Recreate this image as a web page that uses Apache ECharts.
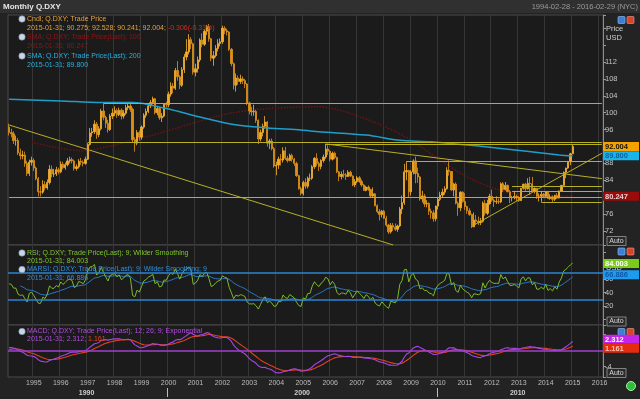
<!DOCTYPE html>
<html>
<head>
<meta charset="utf-8">
<title>Monthly Q.DXY</title>
<script src="https://cdn.jsdelivr.net/npm/echarts@6.0.0/dist/echarts.min.js"></script>
<style>
html,body{margin:0;padding:0;background:#232323;overflow:hidden;}
#chart{width:640px;height:399px;}
</style>
</head>
<body>
<div id="chart"></div>
<script>
// ================= DATA =================
const firstMonth = '1994-02';
const lastMonth = '2016-02';
const firstOpen = 96.6;
// monthly closes 1994-02 .. 2015-01
const closeVals = [
  95.3, 95.0, 93.4, 93.4, 90.5, 89.8, 90.0, 88.0, 85.6, 88.3, 88.7,              // 1994 Feb-Dec
  86.9, 84.4, 81.3, 81.2, 83.0, 82.2, 83.5, 86.6, 85.5, 85.5, 86.5, 86.0,        // 1995
  87.8, 87.0, 87.7, 88.6, 88.9, 88.6, 86.8, 87.2, 88.5, 88.3, 88.0, 89.0,        // 1996
  92.5, 95.2, 95.5, 97.3, 94.8, 96.2, 100.4, 98.9, 97.5, 96.0, 99.2, 99.9,       // 1997
  100.5, 99.5, 100.6, 99.2, 99.9, 101.2, 101.6, 100.8, 93.6, 92.8, 95.3, 94.2,   // 1998
  96.6, 99.4, 100.3, 101.6, 102.4, 103.3, 100.0, 101.0, 98.8, 99.2, 102.0, 101.9,// 1999
  104.4, 106.3, 105.8, 110.0, 108.5, 106.5, 110.2, 113.2, 114.4, 117.3, 116.3, 109.6, // 2000
  110.4, 112.5, 117.2, 116.2, 119.3, 120.4, 117.5, 112.9, 113.5, 115.2, 116.4, 116.8, // 2001
  120.0, 119.4, 119.1, 115.0, 111.6, 106.5, 108.2, 107.4, 108.0, 107.6, 106.8, 102.3, // 2002
  100.4, 100.2, 100.3, 98.2, 93.8, 95.3, 96.8, 97.8, 92.8, 93.3, 91.5, 87.4,     // 2003
  87.6, 89.0, 88.8, 91.0, 89.2, 88.7, 89.9, 89.0, 88.0, 85.1, 82.0, 80.9,        // 2004
  83.5, 82.6, 84.5, 84.5, 87.2, 89.2, 88.0, 87.3, 88.7, 89.5, 91.4, 90.9,        // 2005
  89.0, 90.4, 89.4, 86.0, 84.9, 85.4, 85.3, 84.9, 85.9, 85.0, 82.9, 83.7,        // 2006
  84.6, 83.7, 82.9, 81.6, 82.4, 81.8, 80.3, 80.8, 78.0, 76.6, 75.9, 76.7,        // 2007
  75.0, 73.4, 71.8, 73.3, 72.9, 72.4, 73.2, 77.2, 78.7, 86.0, 86.3, 81.3,        // 2008
  86.0, 88.6, 85.6, 84.8, 79.6, 80.3, 78.4, 78.5, 76.7, 76.3, 74.9, 77.9,        // 2009
  79.5, 80.5, 81.2, 82.0, 86.4, 86.1, 81.7, 83.1, 78.6, 77.5, 81.2, 79.0,        // 2010
  77.8, 76.8, 75.9, 73.0, 74.6, 74.3, 74.0, 74.3, 78.6, 76.2, 78.5, 80.2,        // 2011
  79.3, 78.9, 79.0, 78.9, 83.2, 81.8, 82.8, 81.3, 79.9, 79.9, 80.2, 79.8,        // 2012
  79.2, 82.1, 83.1, 82.0, 83.3, 83.2, 81.5, 82.1, 80.2, 80.2, 80.7, 80.2,        // 2013
  81.3, 79.7, 80.1, 79.5, 80.4, 79.8, 81.5, 82.8, 85.9, 86.9, 88.4, 90.275,      // 2014
  92.004                                                                          // 2015 Jan
];
const highVals = [
  97.4, 96.2, 95.6, 94.6, 94.0, 91.5, 91.0, 90.8, 88.6, 88.9, 89.6,
  89.2, 87.3, 84.8, 82.6, 84.0, 83.8, 84.2, 87.6, 87.5, 86.7, 87.2, 87.0,
  88.5, 88.4, 88.2, 89.3, 89.6, 89.4, 88.9, 87.8, 89.0, 89.3, 88.7, 89.6,
  92.8, 96.4, 96.4, 98.2, 97.8, 96.8, 100.9, 102.2, 99.3, 98.3, 99.7, 101.0,
  101.5, 101.0, 101.2, 101.0, 100.6, 101.9, 102.2, 102.6, 101.2, 94.2, 95.9, 95.8,
  97.0, 99.9, 101.0, 102.2, 103.0, 103.8, 103.5, 101.6, 101.4, 99.9, 102.3, 102.6,
  105.0, 107.2, 107.0, 110.6, 112.2, 108.9, 110.8, 113.9, 117.4, 118.6, 117.9, 116.6,
  111.6, 113.3, 117.6, 118.8, 119.8, 120.8, 121.0, 117.7, 114.6, 116.0, 117.4, 117.6,
  120.6, 120.5, 119.9, 119.3, 115.3, 111.9, 109.3, 108.8, 109.0, 108.6, 108.0, 107.0,
  102.6, 101.4, 101.9, 100.7, 98.4, 96.0, 97.4, 99.2, 98.0, 93.8, 93.9, 91.9,
  88.4, 89.6, 90.2, 91.8, 91.9, 89.8, 90.3, 90.3, 89.3, 88.4, 85.3, 82.5,
  83.9, 84.5, 84.9, 85.6, 87.6, 89.5, 90.4, 88.4, 89.0, 90.1, 92.6, 92.3,
  91.1, 90.8, 90.8, 89.6, 86.2, 86.1, 86.5, 85.7, 86.4, 86.3, 85.2, 84.3,
  85.0, 85.0, 84.2, 83.1, 82.7, 82.8, 82.0, 82.3, 81.0, 78.3, 77.2, 77.0,
  77.0, 75.6, 73.7, 73.9, 73.9, 73.8, 73.5, 77.7, 80.4, 87.9, 88.5, 86.5,
  86.4, 89.0, 89.6, 87.0, 85.0, 81.5, 80.8, 79.3, 78.8, 77.3, 76.9, 78.0,
  79.9, 81.3, 82.0, 82.6, 87.1, 88.7, 86.2, 83.4, 83.5, 79.0, 81.4, 81.4,
  81.0, 78.0, 77.4, 76.1, 76.4, 75.8, 75.4, 75.1, 79.0, 79.4, 79.4, 80.8,
  81.8, 79.7, 80.2, 79.7, 83.5, 83.6, 83.6, 83.0, 81.7, 80.3, 81.5, 80.6,
  80.3, 82.2, 83.2, 83.4, 84.5, 84.8, 84.8, 82.3, 82.2, 80.9, 81.5, 81.0,
  81.5, 81.4, 80.7, 80.4, 80.6, 81.0, 81.6, 82.9, 86.1, 87.0, 88.6, 90.5,
  92.528
];
const lowVals = [
  94.6, 94.2, 92.6, 92.2, 90.0, 88.9, 89.0, 87.2, 85.0, 85.0, 87.5,
  86.2, 84.0, 80.2, 80.2, 80.8, 81.6, 81.8, 83.0, 84.7, 84.8, 85.0, 85.4,
  85.7, 86.6, 86.5, 87.3, 88.0, 88.0, 86.3, 86.3, 86.8, 87.6, 87.3, 87.7,
  88.8, 92.2, 94.3, 95.0, 93.8, 94.2, 95.8, 98.2, 96.4, 95.3, 95.7, 98.5,
  99.2, 98.8, 99.2, 98.4, 98.6, 99.5, 100.6, 100.2, 93.0, 90.8, 92.3, 93.4,
  93.6, 96.2, 98.8, 99.9, 101.1, 102.0, 99.6, 99.4, 98.3, 97.8, 98.9, 101.2,
  101.3, 103.8, 104.6, 105.4, 107.6, 105.6, 106.1, 109.4, 112.4, 113.8, 115.1, 109.0,
  108.6, 109.5, 112.0, 115.5, 115.8, 118.4, 116.8, 112.2, 111.1, 113.1, 114.5, 115.7,
  116.3, 118.6, 118.3, 114.6, 111.0, 105.5, 105.0, 106.6, 106.8, 106.8, 105.8, 101.8,
  99.6, 99.2, 99.3, 97.6, 92.6, 93.2, 94.4, 96.2, 92.0, 91.4, 91.1, 87.0,
  85.2, 86.7, 87.5, 88.2, 88.8, 88.2, 88.5, 88.4, 87.4, 84.8, 81.8, 80.4,
  80.4, 82.0, 82.1, 83.8, 84.1, 86.7, 87.3, 86.2, 86.6, 88.2, 89.1, 90.0,
  88.5, 88.7, 89.0, 85.7, 83.8, 84.2, 84.6, 84.1, 84.8, 84.8, 82.6, 82.4,
  83.3, 83.4, 82.5, 81.5, 81.4, 81.5, 80.0, 80.0, 77.8, 76.2, 74.5, 75.2,
  74.9, 73.0, 71.3, 71.4, 72.0, 72.0, 71.8, 72.9, 76.0, 78.2, 84.0, 79.8,
  80.4, 85.4, 83.3, 83.4, 79.2, 78.8, 77.7, 77.6, 75.8, 74.9, 74.2, 74.3,
  77.1, 79.1, 79.9, 80.6, 81.8, 85.1, 81.5, 80.2, 78.3, 75.6, 76.7, 78.7,
  77.0, 76.1, 75.6, 72.7, 72.9, 73.5, 73.4, 73.4, 74.0, 75.6, 75.8, 78.2,
  78.9, 77.7, 78.4, 78.4, 78.6, 81.2, 81.6, 81.2, 78.6, 79.0, 79.5, 79.1,
  78.9, 79.1, 81.8, 81.5, 81.8, 80.5, 81.3, 80.9, 79.6, 79.0, 80.0, 79.8,
  79.8, 79.6, 79.4, 78.9, 79.1, 79.6, 79.7, 81.3, 82.8, 84.5, 86.7, 87.6,
  90.241
];
// closes 1993-02 .. 1994-01, used only to warm up the indicators
const warmupCloses = [93.0, 91.0, 88.3, 89.5, 93.0, 94.6, 92.3, 91.3, 93.7, 96.5, 97.6, 96.6];

// SMA(200)
const smaMonths = ['1994-02','1996-01','1997-07','1998-09','1999-12','2001-03','2002-06','2003-09','2004-12','2005-08','2007-05','2008-08','2009-10','2012-04','2014-07','2015-01'];
const smaVals   = [103.2, 102.8, 102.4, 102.4, 101.0, 99.0, 97.2, 96.4, 95.9, 95.5, 94.7, 93.5, 93.1, 91.6, 90.0, 89.8];
// red dotted average
const redAvgMonths = ['1994-12','1996-10','1997-10','1999-06','2002-06','2005-08','2006-09','2008-08','2011-02','2012-10','2015-01'];
const redAvgVals   = [93.0, 91.0, 92.0, 94.7, 100.0, 101.4, 100.0, 95.0, 84.8, 81.0, 80.247];

// hand-drawn trend lines: [fromMonth, fromValue, toMonth, toValue]
const trendLines = [
  ['1997-08', 102.2, '2016-02', 102.2],
  ['1997-01', 93.1, '2016-02', 93.1],
  ['2005-11', 92.6, '2016-02', 92.6],
  ['1994-02', 80.1, '2016-02', 80.1],
  ['1994-02', 97.1, '2008-05', 68.7],
  ['2005-11', 92.6, '2016-02', 84.4],
  ['2008-11', 88.6, '2016-02', 88.6],
  ['2012-10', 82.7, '2016-02', 82.7],
  ['2012-10', 81.3, '2016-02', 81.3],
  ['2013-11', 78.9, '2016-02', 78.9],
  ['2013-11', 81.3, '2013-11', 78.9],
  ['2011-05', 73.4, '2016-02', 90.4]
];

const mainTagValues = [92.004, 89.800, 80.247];
const mainTagTexts  = ['92.004', '89.800', '80.247'];
const rsiTagValues  = [84.003, 66.886];
const rsiTagTexts   = ['84.003', '66.886'];
const macdTagValues = [2.312, 1.161];
const macdTagTexts  = ['2.312', '1.161'];
const rsiLevels = [70, 30];
const decadeLabels = [['1990', '1997-01'], ['2000', '2005-01'], ['2010', '2013-01']];
const decadeBounds = ['2000-01', '2010-01'];

// ================= BUILD =================
const categories = [];
for (let y = 1994; y <= 2016; y++) {
  for (let m = 1; m <= 12; m++) {
    const s = y + '-' + String(m).padStart(2, '0');
    if (s >= firstMonth && s <= lastMonth) categories.push(s);
  }
}
const openVals = [firstOpen].concat(closeVals.slice(0, -1));
const candleData = closeVals.map((c, i) => [openVals[i], c, lowVals[i], highVals[i]]);

function sparse(months, vals) {
  const out = categories.map(() => null);
  months.forEach((m, k) => { out[categories.indexOf(m)] = vals[k]; });
  return out.slice(0, closeVals.length);
}
const smaData = sparse(smaMonths, smaVals);
const redAvgData = sparse(redAvgMonths, redAvgVals);

// indicators from the closes
const allCloses = warmupCloses.concat(closeVals);
const W = warmupCloses.length;
function rsiWilder(arr, n) {
  const out = arr.map(() => null);
  let g = 0, l = 0;
  for (let i = 1; i <= n; i++) { const d = arr[i] - arr[i - 1]; if (d > 0) g += d; else l -= d; }
  g /= n; l /= n;
  out[n] = 100 - 100 / (1 + g / l);
  for (let i = n + 1; i < arr.length; i++) {
    const d = arr[i] - arr[i - 1];
    g = (g * (n - 1) + Math.max(d, 0)) / n;
    l = (l * (n - 1) + Math.max(-d, 0)) / n;
    out[i] = l === 0 ? 100 : 100 - 100 / (1 + g / l);
  }
  return out;
}
function wilderMA(arr, n) {
  const out = arr.map(() => null);
  let cnt = 0, sum = 0, prev = null;
  arr.forEach((v, i) => {
    if (v == null) return;
    if (prev == null) { sum += v; cnt++; if (cnt === n) { prev = sum / n; out[i] = prev; } }
    else { prev = (prev * (n - 1) + v) / n; out[i] = prev; }
  });
  return out;
}
function ema(arr, n) {
  const k = 2 / (n + 1); let e = null;
  return arr.map(v => { if (v == null) return null; e = e == null ? v : e + k * (v - e); return e; });
}
const rsiAll = rsiWilder(allCloses, 9);
const marsiAll = wilderMA(rsiAll, 9);
const e12 = ema(allCloses, 12), e26 = ema(allCloses, 26);
const macdAll = e12.map((v, i) => v - e26[i]);
const sigAll = ema(macdAll, 9);
const rsiData = rsiAll.slice(W), marsiData = marsiAll.slice(W);
const macdData = macdAll.slice(W), sigData = sigAll.slice(W);

// ================= CHART =================
const FONT = 'Liberation Sans, Arial, sans-serif';
const chart = echarts.init(document.getElementById('chart'), null, {renderer: 'canvas'});

function xAxisFor(gi, labels) {
  return {
    type: 'category', gridIndex: gi, data: categories, boundaryGap: true,
    axisLine: {show: false}, axisTick: {show: false},
    axisLabel: labels ? {
      show: true, color: '#bdbdbd', fontSize: 7, fontFamily: FONT, margin: 3,
      interval: (i, v) => v.endsWith('-01'),
      formatter: v => v.slice(0, 4)
    } : {show: false},
    splitLine: {show: true, interval: (i, v) => v.endsWith('-01'), lineStyle: {color: '#363636', width: 1}}
  };
}
function yAxisFor(gi, min, max, step, shown) {
  return {
    type: 'value', gridIndex: gi, position: 'right', min: min, max: max,
    minInterval: step, maxInterval: step,
    splitLine: {show: false},
    axisLine: {show: true, lineStyle: {color: '#8c8c8c'}},
    axisTick: {show: true, length: 3, lineStyle: {color: '#9a9a9a'}},
    axisLabel: {color: '#c4c4c4', fontSize: 7.5, fontFamily: FONT, margin: 2,
      formatter: v => shown(v) ? String(v) : ''}
  };
}
const gridStyle = {left: 8, right: 37, show: true, backgroundColor: '#1b1b1b', borderColor: '#4a4a4a', borderWidth: 1, containLabel: false};

const trendData = trendLines.map(t => [{coord: [t[0], t[1]]}, {coord: [t[2], t[3]]}]);

function legendLine(x, y, text, color, icon) {
  const els = [];
  if (icon) {
    els.push({type: 'circle', shape: {cx: x - 5, cy: y, r: 3.2}, style: {fill: '#c9d6e6', stroke: '#7d8fa8', lineWidth: 0.6}, z: 20});
  }
  els.push({type: 'text', x: x, y: y, style: {text: text, fill: color, font: '7px ' + FONT, verticalAlign: 'middle'}, z: 20});
  return els;
}
function richLine(x, y, parts) {
  const rich = {};
  let txt = '';
  parts.forEach((p, k) => { rich['p' + k] = {fill: p[1], fontSize: 7, fontFamily: FONT}; txt += '{p' + k + '|' + p[0] + '}'; });
  return {type: 'text', x: x, y: y, style: {text: txt, rich: rich, verticalAlign: 'middle', font: '7px ' + FONT}, z: 20};
}
function iconPair(x, y) {
  return [
    {type: 'rect', shape: {x: x, y: y - 3.5, width: 7, height: 7, r: 1}, style: {fill: '#3b7fd6', stroke: '#9cc3f0', lineWidth: 0.6}, z: 20},
    {type: 'rect', shape: {x: x + 9, y: y - 3.5, width: 7, height: 7, r: 1}, style: {fill: '#d9432e', stroke: '#f0a090', lineWidth: 0.6}, z: 20}
  ];
}
function autoBox(y) {
  return [
    {type: 'rect', shape: {x: 607, y: y - 4.5, width: 19, height: 9}, style: {fill: '#2a2a2a', stroke: '#9a9a9a', lineWidth: 0.8}, z: 20},
    {type: 'text', x: 616.5, y: y, style: {text: 'Auto', fill: '#d8d8d8', font: '7px ' + FONT, align: 'center', verticalAlign: 'middle'}, z: 21}
  ];
}

const staticGraphics = [].concat(
  [{type: 'rect', shape: {x: 0, y: 0, width: 640, height: 13}, style: {fill: '#303030'}, z: 1},
   {type: 'text', x: 3, y: 6.5, style: {text: 'Monthly Q.DXY', fill: '#e6e6e6', font: 'bold 8px ' + FONT, verticalAlign: 'middle'}, z: 20},
   {type: 'text', x: 638, y: 6.5, style: {text: '1994-02-28 - 2016-02-29 (NYC)', fill: '#9c9c9c', font: '7.5px ' + FONT, align: 'right', verticalAlign: 'middle'}, z: 20},
   {type: 'text', x: 606, y: 29, style: {text: 'Price', fill: '#d0d0d0', font: '7.5px ' + FONT, verticalAlign: 'middle'}, z: 20},
   {type: 'text', x: 606, y: 38, style: {text: 'USD', fill: '#d0d0d0', font: '7.5px ' + FONT, verticalAlign: 'middle'}, z: 20},
   {type: 'text', x: 606, y: 268, style: {text: 'USD', fill: '#d0d0d0', font: '7.5px ' + FONT, verticalAlign: 'middle'}, z: 19},
   {type: 'circle', shape: {cx: 631, cy: 386, r: 4.5}, style: {fill: '#2fbf3a', stroke: '#a8f0a8', lineWidth: 1}, z: 20}],
  legendLine(27, 19, 'Cndl; Q.DXY; Trade Price', '#e8a33a', true),
  [richLine(27, 28, [['2015-01-31; 90.275; 92.528; 90.241; 92.004; ', '#e8a33a'], ['-0.306(-0.33%)', '#d42a1f']])],
  legendLine(27, 37, 'SMA; Q.DXY; Trade Price(Last); 100', '#8a1616', true),
  legendLine(27, 46, '2015-01-31; 80.247', '#8a1616', false),
  legendLine(27, 56, 'SMA; Q.DXY; Trade Price(Last); 200', '#25b2e2', true),
  legendLine(27, 65, '2015-01-31; 89.800', '#25b2e2', false),
  legendLine(27, 253, 'RSI; Q.DXY; Trade Price(Last); 9; Wilder Smoothing', '#7fc62c', true),
  legendLine(27, 261, '2015-01-31; 84.003', '#7fc62c', false),
  legendLine(27, 269.5, 'MARSI; Q.DXY; Trade Price(Last); 9; Wilder Smoothing; 9', '#2f8fe0', true),
  legendLine(27, 278, '2015-01-31; 66.886', '#2f8fe0', false),
  legendLine(27, 331.5, 'MACD; Q.DXY; Trade Price(Last); 12; 26; 9; Exponential', '#b24ae2', true),
  [richLine(27, 339.5, [['2015-01-31; 2.312; ', '#b24ae2'], ['1.161', '#e8441f']])],
  iconPair(618, 20), iconPair(618, 251.5), iconPair(618, 332),
  autoBox(241), autoBox(321.5), autoBox(373)
);

const option = {
  backgroundColor: '#232323',
  animation: false,
  textStyle: {fontFamily: FONT},
  grid: [
    Object.assign({top: 15, height: 230}, gridStyle),
    Object.assign({top: 245, height: 80}, gridStyle),
    Object.assign({top: 325, height: 52}, gridStyle)
  ],
  xAxis: [xAxisFor(0, false), xAxisFor(1, false), xAxisFor(2, true)],
  yAxis: [
    yAxisFor(0, 68.69, 123.13, 4, v => v >= 72 && v <= 112),
    yAxisFor(1, -8.65, 111.65, 20, v => v >= 20 && v <= 60),
    yAxisFor(2, -6.575, 6.425, 4, v => v === -4)
  ],
  series: [
    {
      type: 'candlestick', xAxisIndex: 0, yAxisIndex: 0, data: candleData,
      barWidth: '80%', barMaxWidth: 2,
      itemStyle: {color: '#f7aa28', color0: '#de8f14', borderColor: '#f9b534', borderColor0: '#e09419', borderWidth: 0.8},
      markLine: {silent: true, symbol: ['none', 'none'], label: {show: false},
        lineStyle: {color: '#b8b024', width: 1, type: 'solid', opacity: 1}, data: trendData}
    },
    {type: 'line', xAxisIndex: 0, yAxisIndex: 0, data: smaData, connectNulls: true, symbol: 'none', smooth: 0.3,
      lineStyle: {color: '#1e9fcb', width: 1.5}, z: 3},
    {type: 'line', xAxisIndex: 0, yAxisIndex: 0, data: redAvgData, connectNulls: true, symbol: 'none', smooth: 0.3,
      lineStyle: {color: '#6e1414', width: 1.5, type: 'dotted'}, z: 1},
    {type: 'line', xAxisIndex: 1, yAxisIndex: 1, data: rsiData, symbol: 'none',
      lineStyle: {color: '#7cba2c', width: 1}, z: 4,
      markLine: {silent: true, symbol: ['none', 'none'], label: {show: false},
        lineStyle: {color: '#2b86d2', width: 1.5, type: 'solid'}, data: rsiLevels.map(v => ({yAxis: v}))}},
    {type: 'line', xAxisIndex: 1, yAxisIndex: 1, data: marsiData, symbol: 'none',
      lineStyle: {color: '#2a78c8', width: 1}, z: 3},
    {type: 'line', xAxisIndex: 2, yAxisIndex: 2, data: macdData, symbol: 'none',
      lineStyle: {color: '#a646e6', width: 1.1}, z: 4,
      markLine: {silent: true, symbol: ['none', 'none'], label: {show: false},
        lineStyle: {color: '#a23fd0', width: 1.5, type: 'solid'}, data: [{yAxis: 0}]}},
    {type: 'line', xAxisIndex: 2, yAxisIndex: 2, data: sigData, symbol: 'none',
      lineStyle: {color: '#e2421c', width: 1.1}, z: 3}
  ],
  graphic: staticGraphics
};
chart.setOption(option);

// right-axis value tags, placed through the axis scales, pushed apart when they overlap
function tags(gi, values, texts, bgs, fgs) {
  const H = 9;
  const items = values.map((v, k) => ({y: chart.convertToPixel({yAxisIndex: gi}, v), k: k}));
  items.sort((a, b) => a.y - b.y);
  for (let pass = 0; pass < 3; pass++) {
    for (let i = 1; i < items.length; i++) {
      const gap = items[i].y - items[i - 1].y;
      if (gap < H) { const d = (H - gap) / 2; items[i - 1].y -= d; items[i].y += d; }
    }
  }
  const x0 = chart.convertToPixel({xAxisIndex: gi}, lastMonth) + (chart.convertToPixel({xAxisIndex: gi}, lastMonth) - chart.convertToPixel({xAxisIndex: gi}, '2016-01')) / 2;
  const out = [];
  items.forEach(it => {
    out.push({type: 'rect', shape: {x: x0, y: it.y - H / 2, width: 36, height: H}, style: {fill: bgs[it.k]}, z: 30});
    out.push({type: 'text', x: x0 + 2, y: it.y + 0.5, style: {text: texts[it.k], fill: fgs[it.k], font: 'bold 7.5px ' + FONT, verticalAlign: 'middle'}, z: 31});
  });
  return out;
}
const dyn = [].concat(
  tags(0, mainTagValues, mainTagTexts, ['#f5a200', '#19b5ea', '#9a0b0b'], ['#141414', '#0d5f9c', '#e6d0d0']),
  tags(1, rsiTagValues, rsiTagTexts, ['#7acb1c', '#1c9cef'], ['#ffffff', '#0e58a8']),
  tags(2, macdTagValues, macdTagTexts, ['#c225e6', '#e42c10'], ['#ffffff', '#ffc0b0'])
);
// decade labels below the year labels
const bandW = chart.convertToPixel({xAxisIndex: 2}, '2000-02') - chart.convertToPixel({xAxisIndex: 2}, '2000-01');
decadeLabels.forEach(d => {
  const x = chart.convertToPixel({xAxisIndex: 2}, d[1]) - bandW / 2;
  dyn.push({type: 'text', x: x, y: 393, style: {text: d[0], fill: '#cfcfcf', font: 'bold 7px ' + FONT, align: 'center', verticalAlign: 'middle'}, z: 20});
});
decadeBounds.forEach(m => {
  const x = Math.round(chart.convertToPixel({xAxisIndex: 2}, m) - bandW / 2) + 0.5;
  dyn.push({type: 'line', shape: {x1: x, y1: 388, x2: x, y2: 397}, style: {stroke: '#bdbdbd', lineWidth: 1}, z: 20});
});
chart.setOption({graphic: staticGraphics.concat(dyn)});
</script>
</body>
</html>
